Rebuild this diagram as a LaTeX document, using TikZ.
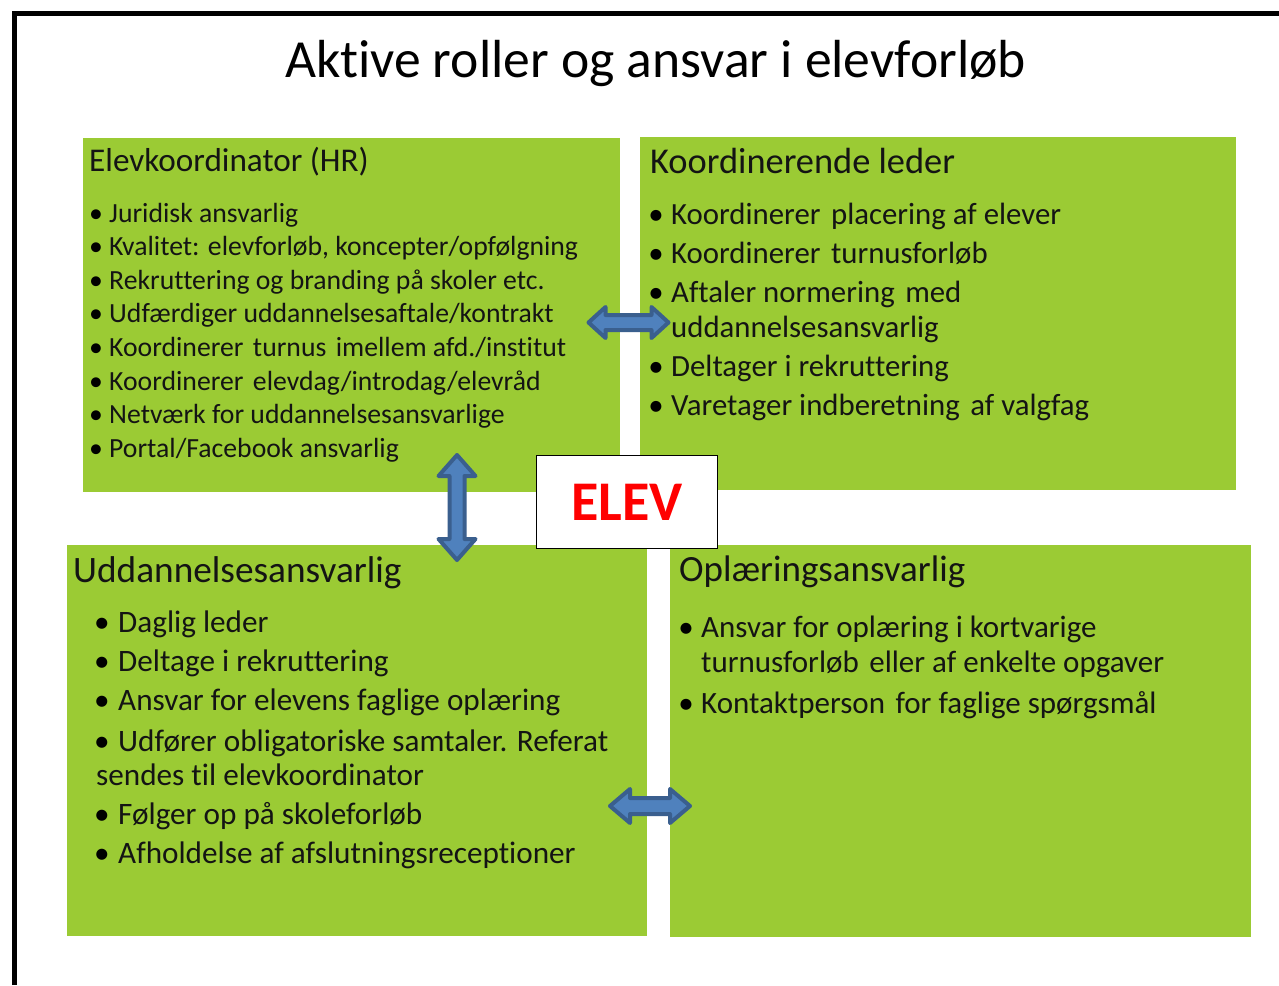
\documentclass[tikz,border=0pt]{standalone}
\usepackage{fontspec}
\setmainfont{Carlito}[Ligatures=NoCommon]
\definecolor{boxgreen}{HTML}{9BCB34}
\definecolor{arrfill}{HTML}{4F81BD}
\definecolor{arrdraw}{HTML}{3A5F8E}
\definecolor{txt}{HTML}{141414}
\definecolor{elevred}{HTML}{FF0000}
\newcommand\hdarrow[6]{%
 \draw[blockarrow] ({#1-#3},#2) -- ({#1-#3+#4},{#2-#5}) -- ({#1-#3+#4},{#2-#6}) -- ({#1+#3-#4},{#2-#6}) -- ({#1+#3-#4},{#2-#5}) -- ({#1+#3},#2) -- ({#1+#3-#4},{#2+#5}) -- ({#1+#3-#4},{#2+#6}) -- ({#1-#3+#4},{#2+#6}) -- ({#1-#3+#4},{#2+#5}) -- cycle;}
\newcommand\vdarrow[6]{%
 \draw[blockarrow] (#1,{#2-#3}) -- ({#1-#5},{#2-#3+#4}) -- ({#1-#6},{#2-#3+#4}) -- ({#1-#6},{#2+#3-#4}) -- ({#1-#5},{#2+#3-#4}) -- (#1,{#2+#3}) -- ({#1+#5},{#2+#3-#4}) -- ({#1+#6},{#2+#3-#4}) -- ({#1+#6},{#2-#3+#4}) -- ({#1+#5},{#2-#3+#4}) -- cycle;}
\newcommand\dsp{\hspace{0.34em}}
\tikzset{
  box/.style={fill=boxgreen, draw=none, inner sep=0pt, anchor=north west},
  blockarrow/.style={fill=arrfill, draw=arrdraw, line width=4pt, line join=round},
  ttl/.style={anchor=base, inner sep=0pt, text=black, font=\fontsize{53.6}{60}\selectfont},
  hd/.style={anchor=base west, inner sep=0pt, text=txt},
  ln/.style={anchor=base west, inner sep=0pt, text=txt},
  bul/.style={anchor=base, inner sep=0pt, text=black},
  fa/.style={font=\fontsize{27.7}{33}\selectfont},
  fb/.style={font=\fontsize{30.8}{36}\selectfont},
  fc/.style={font=\fontsize{31.2}{36}\selectfont},
  fd/.style={font=\fontsize{31}{37}\selectfont},
}
\begin{document}
\begin{tikzpicture}[x=1pt,y=-1pt]
\useasboundingbox (0,0) rectangle (1279,985);
\fill[white] (0,0) rectangle (1279,985);
% frame
\draw[line width=5.5pt, line join=miter] (14.5,985) -- (14.5,13.3) -- (1279,13.3);
% title
\node[ttl] (title) at (655.5,77) {Aktive roller og ansvar i elevforløb};
% boxes
\node[box, minimum width=537pt, minimum height=354pt] (b1) at (83,138) {};
\node[box, minimum width=596pt, minimum height=353pt] (b2) at (640,137) {};
\node[box, minimum width=580pt, minimum height=391pt] (b3) at (66.5,545) {};
\node[box, minimum width=581pt, minimum height=392pt] (b4) at (670,545) {};
% box 1
\node[hd, font=\fontsize{33.2}{40}\selectfont] (h1) at (89,171) {Elevkoordinator (HR)};
\foreach \y/\t [count=\i] in {222/{Juridisk ansvarlig},255.6/{Kvalitet: elevforløb, koncepter/opfølgning},289.2/{Rekruttering og branding på skoler etc.},322.8/{Udfærdiger uddannelsesaftale/kontrakt},356.4/{Koordinerer\dsp turnus\dsp imellem afd./institut},390/{Koordinerer\dsp elevdag/introdag/elevråd},423.6/{Netværk for uddannelsesansvarlige},457.2/{Portal/Facebook ansvarlig}}{
  \node[bul, fa] (a\i b) at (96,\y) {•};
  \node[ln, fa] (a\i) at (109,\y) {\t};
}
% box 2
\node[hd, font=\fontsize{36.4}{43}\selectfont] (h2) at (650,173) {Koordinerende leder};
\foreach \y/\t [count=\i] in {224/{Koordinerer\dsp placering af elever},263/{Koordinerer\dsp turnusforløb},302/{Aftaler normering\dsp med},376/{Deltager i rekruttering},415/{Varetager indberetning\dsp af valgfag}}{
  \node[bul, fb] (c\i b) at (656,\y) {•};
  \node[ln, fb] (c\i) at (671,\y) {\t};
}
\node[ln, fb] (c3x) at (671,337) {uddannelsesansvarlig};
% box 3
\node[hd, font=\fontsize{37.3}{44}\selectfont] (h3) at (73,582) {Uddannelsesansvarlig};
\foreach \y/\t [count=\i] in {632/{Daglig leder},671/{Deltage i rekruttering},710/{Ansvar for elevens faglige oplæring},751/{Udfører obligatoriske samtaler. Referat},824/{Følger op på skoleforløb},863/{Afholdelse af afslutningsreceptioner}}{
  \node[bul, fc] (d\i b) at (102,\y) {•};
  \node[ln, fc] (d\i) at (118,\y) {\t};
}
\node[ln, fc] (d4x) at (96,785) {sendes til elevkoordinator};
% box 4
\node[hd, font=\fontsize{37}{44}\selectfont] (h4) at (679,581) {Oplæringsansvarlig};
\node[bul, fd] (e1b) at (686,637) {•};
\node[ln, fd] (e1) at (701,637) {Ansvar for oplæring i kortvarige};
\node[ln, fd] (e1x) at (701,672) {turnusforløb\dsp eller af enkelte opgaver};
\node[bul, fd] (e2b) at (686,713) {•};
\node[ln, fd] (e2) at (701,713) {Kontaktperson\dsp for faglige spørgsmål};
% arrows
\hdarrow{628.5}{322.5}{40}{17}{15.5}{7.5}
\hdarrow{650}{806}{40}{20}{17}{8}
\vdarrow{457}{507.5}{52.5}{21}{18.5}{7.5}
% ELEV
\node[draw=black, line width=1.6pt, fill=white, minimum width=181pt, minimum height=93pt, inner sep=0pt, text=elevred, font=\fontsize{56}{60}\selectfont\bfseries] (elev) at (627,502) {ELEV};
\end{tikzpicture}
\end{document}
